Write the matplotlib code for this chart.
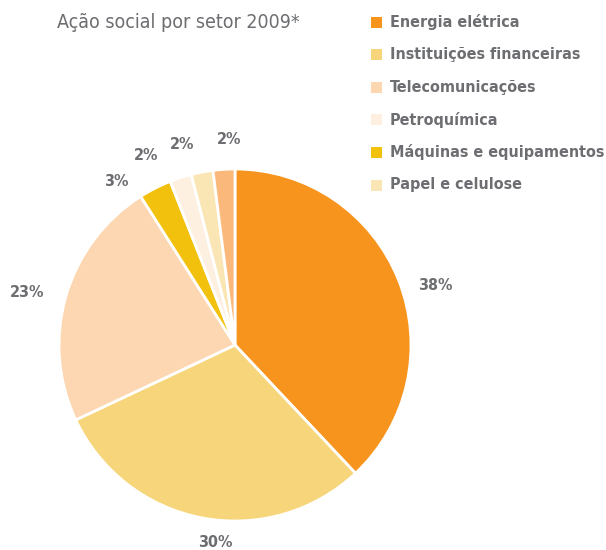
import matplotlib
matplotlib.use("Agg")
import matplotlib.pyplot as plt
import numpy as np
from matplotlib.patches import Rectangle

sectors = ["Energia elétrica", "Instituições financeiras", "Telecomunicações",
           "Máquinas e equipamentos", "Petroquímica", "Papel e celulose", "Outros"]
values = [38, 30, 23, 3, 2, 2, 2]
labels = ["38%", "30%", "23%", "3%", "2%", "2%", "2%"]
colors = ["#F7941D", "#F7D57A", "#FCD7B2", "#F2C10E", "#FEF0E1", "#FAE6B4", "#FAB87A"]
legend_names = ["Energia elétrica", "Instituições financeiras", "Telecomunicações",
                "Petroquímica", "Máquinas e equipamentos", "Papel e celulose"]
legend_colors = ["#F7941D", "#F7D57A", "#FCD7B2", "#FEF0E1", "#F2C10E", "#FAE6B4"]

# label placement style: angle shift (deg) and distance (in radii)
label_shift = [-5, 5, 2, 9, 7, 4, -2]
label_dist = [1.19, 1.13, 1.22, 1.15, 1.19, 1.18, 1.17]

W, H = 606, 550
fig = plt.figure(figsize=(W / 100, H / 100), dpi=100)
ax = fig.add_axes([0, 0, 1, 1])

grey = "#6D6E71"
fam = ["DejaVu Sans"]

cx, cy, R = 235, H - 345, 176
wedges, _ = ax.pie(values, colors=colors, startangle=90, counterclock=False,
                   center=(cx, cy), radius=R,
                   wedgeprops=dict(edgecolor="white", linewidth=2), frame=True)
for w, lab, sh, d in zip(wedges, labels, label_shift, label_dist):
    ang = np.deg2rad((w.theta1 + w.theta2) / 2 + sh)
    ax.text(cx + d * R * np.cos(ang), cy + d * R * np.sin(ang), lab,
            color=grey, fontsize=11.5, fontweight="bold", family=fam,
            fontstretch="condensed", ha="center", va="center")

ax.set_xlim(0, W)
ax.set_ylim(0, H)
ax.set_aspect("equal")
ax.axis("off")

ax.text(57, H - 22, "Ação social por setor 2009*", fontsize=14, color=grey,
        family=fam, fontstretch="condensed", fontweight="light", ha="left", va="center")

y0 = H - 22
for i, (name, c) in enumerate(zip(legend_names, legend_colors)):
    y = y0 - i * 32.6
    ax.add_patch(Rectangle((371, y - 5.5), 11, 11, facecolor=c, edgecolor="none"))
    ax.text(390, y, name, fontsize=11.5, fontweight="bold", color=grey,
            family=fam, fontstretch="condensed", ha="left", va="center")

fig.savefig("out.png", dpi=100)
